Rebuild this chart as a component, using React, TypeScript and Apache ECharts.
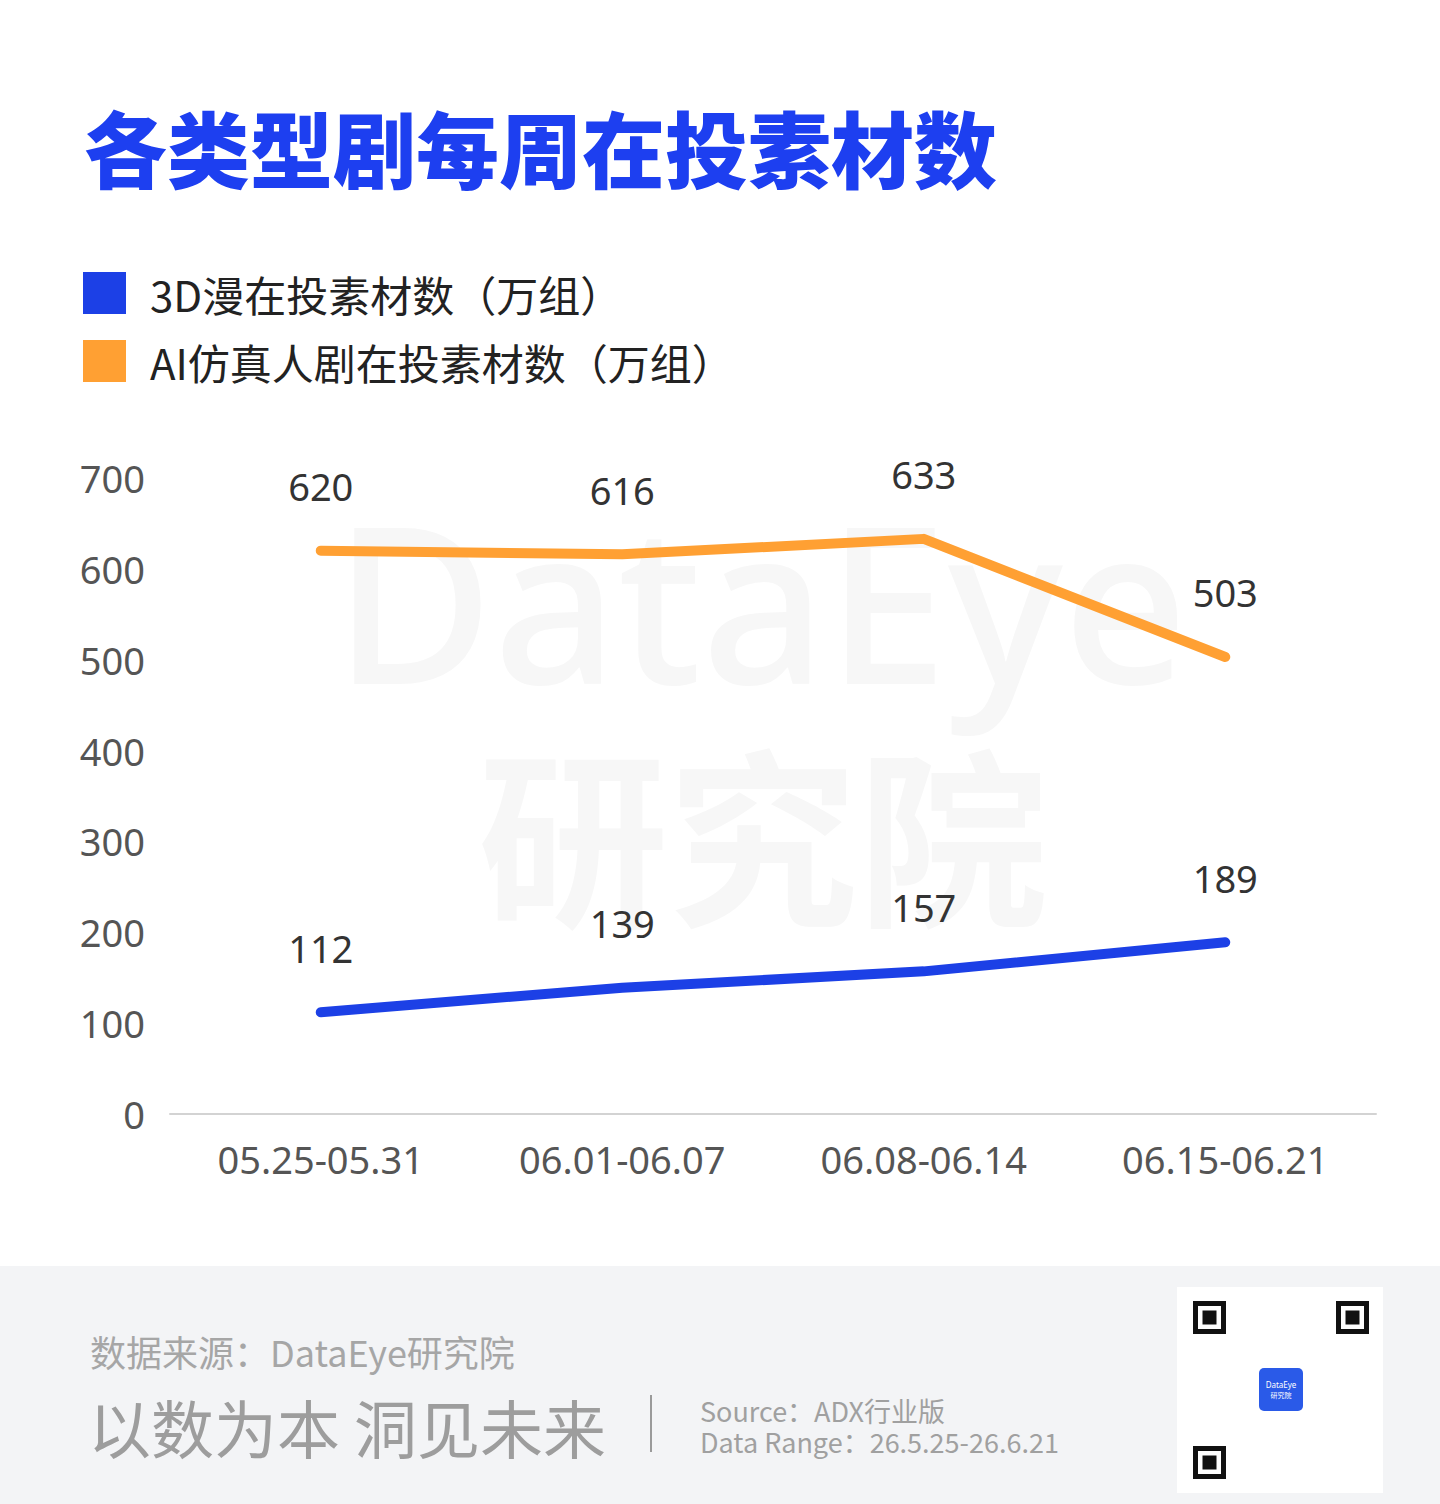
import React, { useEffect, useRef } from "react";
import * as echarts from "echarts";

const categories = ["05.25-05.31", "06.01-06.07", "06.08-06.14", "06.15-06.21"];
const series3D = [112, 139, 157, 189];
const seriesAI = [620, 616, 633, 503];
const seriesNames = ["3D漫在投素材数（万组）", "AI仿真人剧在投素材数（万组）"];
const yMin = 0;
const yMax = 700;
const yInterval = 100;

const BLUE = "#1c40e6";
const ORANGE = "#ffa033";
const FONT = "'Noto Sans CJK SC', 'Noto Sans', sans-serif";
const NUMFONT = "'Noto Sans', 'Noto Sans CJK SC', sans-serif";

export default function App() {
  const ref = useRef<HTMLDivElement>(null);
  useEffect(() => {
    document.body.style.margin = "0";
    if (!ref.current) return;
    const chart = echarts.init(ref.current, null, { renderer: "svg" });

    const finder = (x: number, y: number) => [
      { type: "rect", shape: { x: x + 2.5, y: y + 2.5, width: 28, height: 28 }, style: { fill: "none", stroke: "#111", lineWidth: 5 }, z: 1 },
      { type: "rect", shape: { x: x + 9.5, y: y + 9.5, width: 14, height: 14 }, style: { fill: "#111" }, z: 1 },
    ];

    chart.setOption({
      animation: false,
      backgroundColor: "#ffffff",
      textStyle: { fontFamily: FONT },
      legend: {
        orient: "vertical",
        left: 83,
        top: 272,
        padding: 0,
        itemWidth: 43,
        itemHeight: 42,
        itemGap: 26,
        icon: "rect",
        textStyle: { fontSize: 42, color: "#222", fontFamily: FONT, padding: [0, 0, 0, 19] },
        data: seriesNames,
      },
      grid: { left: 170, right: 64, top: 478, bottom: 390, containLabel: false },
      xAxis: {
        type: "category",
        data: categories,
        boundaryGap: true,
        axisLine: { lineStyle: { color: "#d3d3d3", width: 2 } },
        axisTick: { show: false },
        axisLabel: { fontSize: 38, color: "#555", margin: 26, fontFamily: NUMFONT },
      },
      yAxis: {
        type: "value",
        min: yMin,
        max: yMax,
        interval: yInterval,
        splitLine: { show: false },
        axisLine: { show: false },
        axisTick: { show: false },
        axisLabel: { fontSize: 38, color: "#555", margin: 25, fontFamily: NUMFONT },
      },
      series: [
        {
          name: seriesNames[0],
          type: "line",
          data: series3D,
          symbol: "circle",
          symbolSize: 1,
          z: 3,
          itemStyle: { color: BLUE },
          lineStyle: { color: BLUE, width: 10, cap: "round", join: "round" },
          label: { show: true, position: "top", distance: 45, fontSize: 38, color: "#333", fontFamily: NUMFONT },
        },
        {
          name: seriesNames[1],
          type: "line",
          data: seriesAI,
          symbol: "circle",
          symbolSize: 1,
          z: 3,
          itemStyle: { color: ORANGE },
          lineStyle: { color: ORANGE, width: 10, cap: "round", join: "round" },
          label: { show: true, position: "top", distance: 45, fontSize: 38, color: "#333", fontFamily: NUMFONT },
        },
      ],
      graphic: [
        // watermark
        {
          type: "text", left: 334, top: 490, z: -10, silent: true,
          style: { text: "DataEye", fontSize: 218, fontFamily: NUMFONT, fontWeight: 500, fill: "#f7f7f7" },
        },
        {
          type: "text", left: 478, top: 734, z: -10, silent: true,
          style: { text: "研究院", fontSize: 190, fontFamily: FONT, fontWeight: "bold", fill: "#f7f7f7" },
        },
        // title
        {
          type: "text", x: 84, y: 146,
          style: { text: "各类型剧每周在投素材数", fontSize: 83, fontWeight: 900, fontFamily: FONT, fill: "#1d3ff0", verticalAlign: "middle", textAlign: "left" },
        },
        // footer background
        { type: "rect", shape: { x: 0, y: 1266, width: 1440, height: 238 }, style: { fill: "#f3f4f6" }, z: 0 },
        {
          type: "text", x: 90, y: 1351, z: 1,
          style: { text: "数据来源：DataEye研究院", fontSize: 36, fontFamily: FONT, fill: "#a6a6a6", verticalAlign: "middle" },
        },
        {
          type: "text", x: 88, y: 1425, z: 1,
          style: { text: "以数为本 洞见未来", fontSize: 63, fontFamily: FONT, fill: "#9d9d9d", verticalAlign: "middle" },
        },
        { type: "line", shape: { x1: 651, y1: 1395, x2: 651, y2: 1452 }, style: { stroke: "#9a9a9a", lineWidth: 2 }, z: 1 },
        {
          type: "text", x: 700, y: 1410, z: 1,
          style: { text: "Source：ADX行业版", fontSize: 27, fontFamily: FONT, fill: "#a0a0a0", verticalAlign: "middle" },
        },
        {
          type: "text", x: 700, y: 1441, z: 1,
          style: { text: "Data Range：26.5.25-26.6.21", fontSize: 27, fontFamily: FONT, fill: "#a0a0a0", verticalAlign: "middle" },
        },
        // QR box
        { type: "rect", shape: { x: 1177, y: 1287, width: 206, height: 206 }, style: { fill: "#ffffff" }, z: 1 },
        ...finder(1193, 1301),
        ...finder(1336, 1301),
        ...finder(1193, 1446),
        { type: "rect", shape: { x: 1259, y: 1368, width: 44, height: 43, r: 5 }, style: { fill: "#2a5ae8" }, z: 1 },
        {
          type: "text", x: 1281, y: 1384, z: 2,
          style: { text: "DataEye", fontSize: 8, fontFamily: NUMFONT, fill: "#ffffff", textAlign: "center", verticalAlign: "middle" },
        },
        {
          type: "text", x: 1281, y: 1395, z: 2,
          style: { text: "研究院", fontSize: 7, fontFamily: FONT, fill: "#ffffff", textAlign: "center", verticalAlign: "middle" },
        },
      ],
    });
    return () => chart.dispose();
  }, []);
  return <div ref={ref} style={{ width: 1440, height: 1504, position: "absolute", left: 0, top: 0 }} />;
}
